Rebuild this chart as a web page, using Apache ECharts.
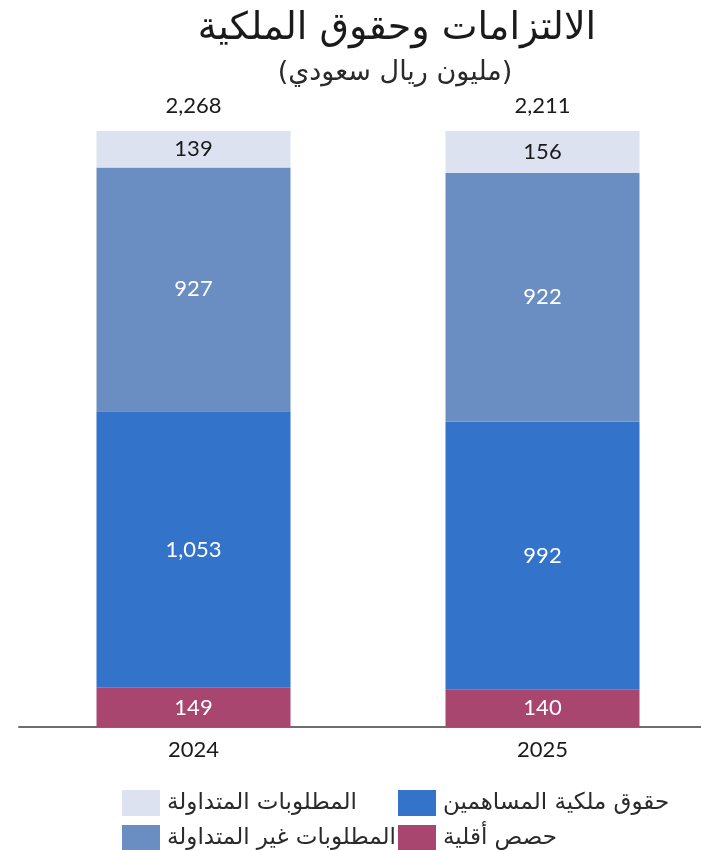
<!DOCTYPE html>
<html>
<head>
<meta charset="utf-8">
<script src="https://cdn.jsdelivr.net/npm/echarts@6/dist/echarts.min.js"></script>
<style>
  html, body { margin: 0; padding: 0; background: #ffffff; }
  #chart { width: 701px; height: 850px; }
</style>
</head>
<body>
<div id="chart"></div>
<script>
// Years on the category axis
const years = ['2024', '2025'];

// Balance-sheet components, millions of SAR (bottom to top of each bar)
const minorityInterest = [149, 140];        // حصص أقلية
const shareholdersEquity = [1053, 992];     // حقوق ملكية المساهمين
const nonCurrentLiabilities = [927, 922];   // المطلوبات غير المتداولة
const currentLiabilities = [139, 156];      // المطلوبات المتداولة

// Totals printed above each bar
const totals = [2268, 2211];

const names = {
  minority: 'حصص أقلية',
  equity: 'حقوق ملكية المساهمين',
  nonCurrent: 'المطلوبات غير المتداولة',
  current: 'المطلوبات المتداولة'
};

const colors = {
  minority: '#A8466F',
  equity: '#3373C9',
  nonCurrent: '#6A8EC2',
  current: '#DDE2F0'
};

const latin = 'Lato, "Open Sans", sans-serif';
const arabic = '"DejaVu Sans", "Noto Sans", sans-serif';

// Each bar is shown as a full-height column: segments are shares of the bar's sum
const parts = [minorityInterest, shareholdersEquity, nonCurrentLiabilities, currentLiabilities];
const sums = years.map((_, i) => parts.reduce((s, arr) => s + arr[i], 0));
const asShare = arr => arr.map((v, i) => ({ value: v / sums[i], raw: v }));

const fmt = v => v.toLocaleString('en-US');

function segment(name, arr, color, textColor) {
  return {
    name: name,
    type: 'bar',
    stack: 'total',
    barWidth: 194,
    data: asShare(arr),
    itemStyle: { color: color },
    label: {
      show: true,
      position: 'inside',
      fontFamily: latin,
      fontSize: 22,
      color: textColor,
      formatter: p => fmt(p.data.raw)
    },
    emphasis: { disabled: true }
  };
}

const legendBase = {
  orient: 'horizontal',
  itemWidth: 38,
  itemHeight: 26,
  itemGap: 10,
  icon: 'rect',
  selectedMode: false,
  textStyle: { fontFamily: arabic, fontSize: 23, color: '#2a2a2a', padding: [0, 0, 0, 2] }
};

const chart = echarts.init(document.getElementById('chart'), null, { renderer: 'canvas' });

chart.setOption({
  backgroundColor: '#ffffff',
  animation: false,
  title: [
    {
      text: 'الالتزامات وحقوق الملكية',
      left: 392,
      top: 5,
      textAlign: 'center',
      textStyle: { fontFamily: arabic, fontSize: 38, fontWeight: 'normal', color: '#1a1a1a' }
    },
    {
      text: '(مليون ريال سعودي)',
      left: 390,
      top: 54,
      textAlign: 'center',
      textStyle: { fontFamily: arabic, fontSize: 27, fontWeight: 'normal', color: '#2a2a2a' }
    }
  ],
  legend: [
    Object.assign({}, legendBase, { data: [names.current], left: 117, top: 785 }),
    Object.assign({}, legendBase, { data: [names.equity], left: 393, top: 785 }),
    Object.assign({}, legendBase, { data: [names.nonCurrent], left: 117, top: 820 }),
    Object.assign({}, legendBase, { data: [names.minority], left: 393, top: 820 })
  ],
  grid: { left: 19, width: 698, top: 131, bottom: 123, outerBoundsMode: 'none', containLabel: false },
  xAxis: {
    type: 'category',
    data: years,
    axisLine: { show: true, lineStyle: { color: '#6e6e6e', width: 2 } },
    axisTick: { show: false },
    axisLabel: { fontFamily: latin, fontSize: 22, color: '#1a1a1a', margin: 12 }
  },
  yAxis: {
    type: 'value',
    min: 0,
    max: 1,
    show: false,
    splitLine: { show: false }
  },
  series: [
    segment(names.minority, minorityInterest, colors.minority, '#ffffff'),
    segment(names.equity, shareholdersEquity, colors.equity, '#ffffff'),
    segment(names.nonCurrent, nonCurrentLiabilities, colors.nonCurrent, '#ffffff'),
    segment(names.current, currentLiabilities, colors.current, '#1a1a1a'),
    {
      // zero-height cap carrying the bar totals
      name: 'total',
      type: 'bar',
      stack: 'total',
      barWidth: 194,
      data: totals.map(t => ({ value: 0, raw: t })),
      itemStyle: { color: 'transparent' },
      label: {
        show: true,
        position: 'top',
        distance: 14,
        fontFamily: latin,
        fontSize: 22,
        color: '#1a1a1a',
        formatter: p => fmt(p.data.raw)
      },
      emphasis: { disabled: true }
    }
  ]
});
</script>
</body>
</html>
